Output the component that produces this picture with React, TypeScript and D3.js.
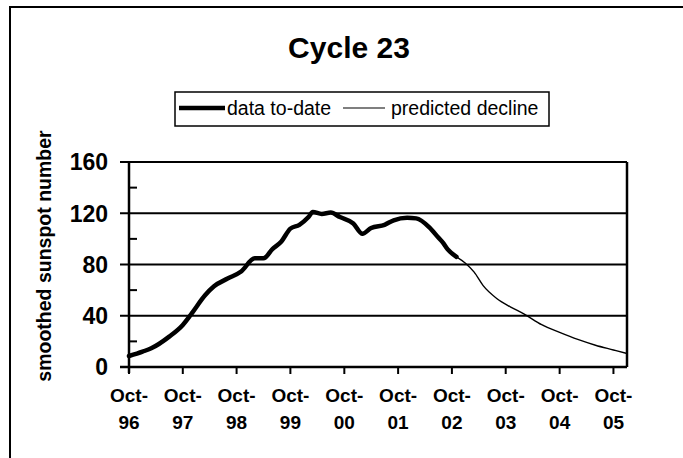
import * as d3 from "d3"

// smoothed sunspot number, cycle 23
const dataDates = [
  "1996-10", "1997-01", "1997-03", "1997-07", "1997-10", "1997-12", "1998-03",
  "1998-05", "1998-08", "1998-11", "1999-02", "1999-04", "1999-06", "1999-08",
  "1999-10", "1999-12", "2000-02", "2000-03", "2000-05", "2000-07", "2000-09",
  "2000-12", "2001-02", "2001-04", "2001-07", "2001-09", "2001-12", "2002-02",
  "2002-05", "2002-07", "2002-08", "2002-09", "2002-11",
]
const dataValues = [
  8.6, 12, 14.6, 23.7, 32.8, 41.9, 56, 63, 69, 74.5, 84.8, 84.8, 92, 98,
  108, 111, 117, 121, 119.5, 120.5, 117, 112, 104, 108.5, 111, 114.5, 116.5,
  116, 109, 101, 97, 92, 86,
]

const predDates = [
  "2002-11", "2003-01", "2003-03", "2003-05", "2003-08", "2003-11", "2004-02",
  "2004-06", "2004-10", "2005-02", "2005-06", "2005-10", "2006-01",
]
const predValues = [86, 81, 74, 63.5, 53.5, 47, 41.5, 33, 27, 21.5, 17, 13.3, 10.5]

const yTicks = [0, 40, 80, 120, 160]
const yMinor = [20, 60, 100, 140]
const xTickYears = ["96", "97", "98", "99", "00", "01", "02", "03", "04", "05"]

const parse = d3.timeParse("%Y-%m")
const FONT = "'Liberation Sans', Arial, sans-serif"

const App = () => {
  const width = 683
  const height = 458
  const left = 129
  const right = 627
  const top = 162
  const bottom = 367

  const x = d3
    .scaleTime()
    .domain([parse("1996-10")!, parse("2006-01")!])
    .range([left, right])
  const y = d3.scaleLinear().domain([0, 160]).range([bottom, top])

  const line = d3
    .line<[Date, number]>()
    .x((d) => x(d[0]))
    .y((d) => y(d[1]))
    .curve(d3.curveMonotoneX)

  const dataPts = dataDates.map((d, i) => [parse(d)!, dataValues[i]] as [Date, number])
  const predPts = predDates.map((d, i) => [parse(d)!, predValues[i]] as [Date, number])
  const xTicks = xTickYears.map((yy, i) => ({ label: yy, date: new Date(1996 + i, 9, 1) }))

  return (
    <svg
      width={width}
      height={height}
      style={{ position: "absolute", left: 0, top: 0, background: "#fff" }}
    >
      {/* chart frame */}
      <line x1={9} x2={683} y1={7} y2={7} stroke="#000" strokeWidth={2} />
      <line x1={10} x2={10} y1={7} y2={458} stroke="#000" strokeWidth={2} />

      {/* title */}
      <text x={349} y={58} textAnchor="middle" fontFamily={FONT} fontWeight="bold" fontSize={30}>
        Cycle 23
      </text>

      {/* legend */}
      <rect x={175} y={92} width={374} height={34} fill="#fff" stroke="#000" strokeWidth={1.5} />
      <line x1={179} x2={225} y1={108} y2={108} stroke="#000" strokeWidth={4.5} />
      <text x={227} y={115} fontFamily={FONT} fontSize={19.5}>data to-date</text>
      <line x1={343} x2={385} y1={108} y2={108} stroke="#000" strokeWidth={1.2} />
      <text x={391} y={115} fontFamily={FONT} fontSize={19.5}>predicted decline</text>

      {/* y axis title */}
      <text
        transform={`translate(51, 256) rotate(-90)`}
        textAnchor="middle"
        fontFamily={FONT}
        fontWeight="bold"
        fontSize={19.5}
      >
        smoothed sunspot number
      </text>

      {/* gridlines + major ticks */}
      {yTicks.map((t) => (
        <g key={t}>
          <line x1={120} x2={right} y1={y(t)} y2={y(t)} stroke="#000" strokeWidth={t === 0 ? 2.5 : 2} />
          <text
            x={108}
            y={y(t)}
            dy="0.36em"
            textAnchor="end"
            fontFamily={FONT}
            fontWeight="bold"
            fontSize={23}
          >
            {t}
          </text>
        </g>
      ))}
      {yMinor.map((t) => (
        <line key={t} x1={left} x2={left + 8} y1={y(t)} y2={y(t)} stroke="#000" strokeWidth={2} />
      ))}

      {/* axes */}
      <line x1={left} x2={left} y1={top} y2={bottom + 6} stroke="#000" strokeWidth={2.5} />
      <line x1={right} x2={right} y1={top} y2={bottom} stroke="#000" strokeWidth={2.5} />

      {xTicks.map((t) => (
        <g key={t.label} transform={`translate(${x(t.date)},0)`}>
          <line y1={bottom} y2={bottom + 7} stroke="#000" strokeWidth={2} />
          <text y={402} textAnchor="middle" fontFamily={FONT} fontWeight="bold" fontSize={19}>
            Oct-
          </text>
          <text y={429} textAnchor="middle" fontFamily={FONT} fontWeight="bold" fontSize={19}>
            {t.label}
          </text>
        </g>
      ))}

      {/* series */}
      <path d={line(predPts) ?? ""} fill="none" stroke="#000" strokeWidth={1.4} />
      <path
        d={line(dataPts) ?? ""}
        fill="none"
        stroke="#000"
        strokeWidth={4.5}
        strokeLinejoin="round"
        strokeLinecap="round"
      />
    </svg>
  )
}

export default App
